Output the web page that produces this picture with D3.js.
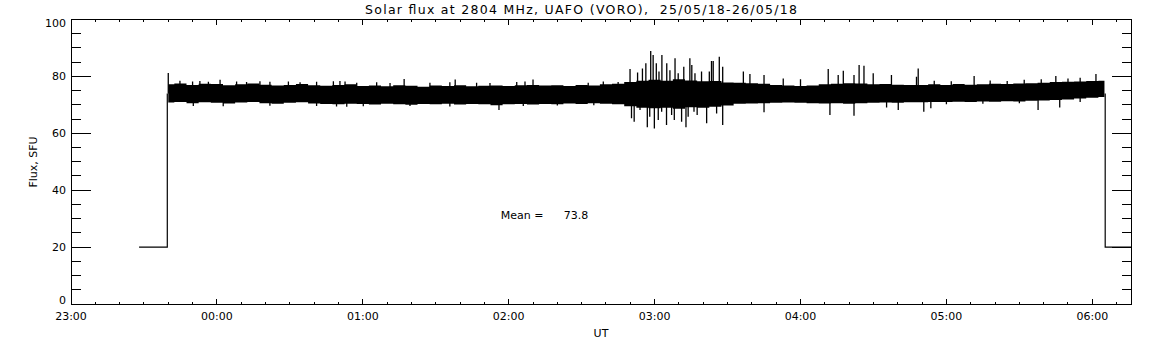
<!DOCTYPE html>
<head>
<meta charset="utf-8">
<title>Solar flux at 2804 MHz</title>
<script src="https://d3js.org/d3.v7.min.js"></script>
<style>
  body { margin: 0; background: #fff; }
  text { font-family: 'DejaVu Sans', sans-serif; fill: #000; }
</style>
</head>
<body>
<script>
// time is in minutes after 23:00 (25/05/18)
var tickMinutes = [0, 60, 120, 180, 240, 300, 360, 420];
var tickLabels = ["23:00", "00:00", "01:00", "02:00", "03:00", "04:00", "05:00", "06:00"];
var yTicks = [0, 20, 40, 60, 80, 100];

// receiver off (20 SFU) before and after observation
var offBefore = [[28, 20], [39.6, 20]];
var offAfter = [[425.3, 20], [440, 20]];
var bandStart = 39.6, bandEnd = 425.3;

// envelope of the noisy record, sampled every 5 min from 23:40
var bandTimes = d3.range(40, 426, 5);
var bandUpper = [77.2, 77.5, 77.0, 77.4, 77.3, 76.9, 77.2, 77.5, 77.1, 76.8, 77.0, 77.3, 76.9, 76.7, 77.0, 77.2,
  76.6, 76.8, 76.5, 76.9, 76.7, 76.4, 76.8, 76.6, 76.9, 76.5, 76.7, 76.8, 76.6, 76.9, 77.0,
  76.8, 76.9, 76.6, 77.0, 76.8, 77.2, 77.4,
  78.0, 78.5, 78.8, 78.5, 79.0, 78.6, 78.3, 78.4, 77.9,
  77.8, 77.6, 77.4, 77.0, 76.8, 76.6, 76.8, 77.2, 77.4, 77.6, 77.5, 77.2, 77.3, 77.1, 77.0,
  77.0, 77.2, 77.0, 77.3, 77.1, 77.2, 77.4, 77.3, 77.5, 77.6, 77.8, 78.0, 78.1, 78.2, 78.4, 78.5];
var bandLower = [70.8, 71.0, 70.6, 70.9, 70.7, 70.5, 70.8, 71.0, 70.6, 70.4, 70.7, 70.9, 70.5, 70.3, 70.2, 70.4,
  70.3, 70.1, 70.4, 70.2, 70.0, 70.3, 70.2, 70.4, 70.1, 70.3, 70.2, 69.9, 70.2, 70.3, 70.1,
  70.3, 70.2, 70.5, 70.3, 70.6, 70.4, 70.2,
  69.5, 69.0, 68.8, 69.0, 68.6, 69.2, 69.0, 69.3, 69.8,
  70.4, 70.5, 70.6, 70.7, 70.8, 70.7, 70.6, 70.5, 70.6, 70.4, 70.6, 70.7, 70.8, 70.7, 70.9,
  70.9, 71.0, 71.0, 71.1, 71.0, 71.2, 71.1, 71.3, 71.2, 71.4, 71.5, 71.7, 71.9, 72.2, 72.5, 72.8];

// individual spikes [minute, SFU]
var spikesUp = [[40, 81.2], [44.8, 78.5], [50, 78.2], [53, 78.4], [56.5, 78.1], [61.3, 78.8], [68.1, 78.2], [72.2, 78.0],
  [77.7, 78.3], [81.8, 78.1], [89.4, 78.2], [94.2, 77.9], [101, 78.1], [107.9, 78.3], [110.6, 78.4], [112.7, 78.2],
  [117.5, 77.8], [125.7, 77.9], [131.2, 77.7], [137, 79.1], [147.6, 77.8], [155.8, 77.9], [158, 78.9], [166.8, 77.8],
  [172.3, 77.7], [183.3, 78.0], [186.7, 78.2], [190, 78.9], [212.7, 77.8], [218.9, 78.2], [225, 78.0],
  [229.9, 82.6], [233, 81.4], [235, 82.8], [236.4, 84.6], [238.4, 88.9], [239.4, 87.5], [240.7, 84.6], [241.8, 81.7],
  [243, 87.5], [245, 84.6], [246.3, 82.2], [248.4, 86.4], [249.7, 81.1], [252, 83.4], [254.5, 86.4], [255.3, 84],
  [256.6, 81.1], [259.3, 81.7], [262.5, 81.7], [263.4, 85.4], [264.1, 85.4], [266.6, 86.9], [268, 83.4],
  [276.5, 81.7], [279.2, 80.8], [285, 80.5], [292.9, 79.3], [300, 79.0], [311.4, 82.6], [315.5, 80.5], [317.6, 82],
  [322, 80.5], [324.1, 84], [326.1, 83.7], [329.9, 81.1], [337.4, 80.5], [347.7, 79.9], [348.4, 82.8],
  [355, 78.5], [362, 78.3], [371.4, 80.1], [378, 78.6], [385, 78.4], [392, 78.8], [399, 79.0], [405, 80.1],
  [410, 79.3], [415, 79.5], [421.5, 80.8]];
var spikesDown = [[50.3, 69.6], [62.6, 69.5], [81.8, 69.7], [101, 69.6], [109.2, 69.4], [113.4, 69.3],
  [120.2, 69.5], [139.4, 69.6], [155.8, 69.4], [176, 68.2], [186, 69.6], [200, 69.8], [215, 69.9],
  [230.5, 65.3], [231.6, 64.1], [234, 68.2], [237, 62.1], [238, 65.8], [239.9, 61.7], [241.5, 64.7], [242.9, 67.6],
  [244.9, 62.9], [247, 66.4], [248.1, 64.7], [251.1, 64.1], [252.9, 62.1], [253.8, 65.8], [256.2, 67.6], [257.5, 66.4],
  [261.4, 63.5], [265.5, 67], [268, 62.9], [285, 67.4], [312.1, 66.4], [322, 66.2], [335.4, 69.1], [340.2, 68.2],
  [350.7, 67.6], [353.6, 68.8], [360, 70.2], [375, 70.4], [390, 70.6], [397.7, 68.2], [406.6, 69.1], [415, 71.0]];

var meanValue = 73.8;

var width = 1152, height = 345;
var padL = 71, padR = 1131.7, padT = 19.5, padB = 304;

var svg = d3.select("body").append("svg")
  .attr("width", width).attr("height", height);

var x = d3.scaleLinear().domain([0, 436.2]).range([padL, padR]);
var y = d3.scaleLinear().domain([0, 100]).range([padB, padT]);

svg.append("clipPath").attr("id", "clip")
  .append("rect").attr("x", padL).attr("y", padT).attr("width", padR - padL).attr("height", padB - padT);

var plot = svg.append("g").attr("clip-path", "url(#clip)");

// noisy band
var band = d3.area()
  .x(function(d, i) { return x(bandTimes[i]); })
  .y0(function(d, i) { return y(bandLower[i]); })
  .y1(function(d, i) { return y(bandUpper[i]); })
  .curve(d3.curveStep);
plot.append("path").datum(bandUpper).attr("d", band).attr("fill", "#000");

// spikes
plot.selectAll(".spike").data(spikesUp.concat(spikesDown)).enter().append("line")
  .attr("x1", function(d) { return x(d[0]); })
  .attr("x2", function(d) { return x(d[0]); })
  .attr("y1", y(74))
  .attr("y2", function(d) { return y(d[1]); })
  .attr("stroke", "#000").attr("stroke-width", 1.3);

// off levels and the jumps
var line = d3.line().x(function(d) { return x(d[0]); }).y(function(d) { return y(d[1]); });
plot.append("path").datum(offBefore.concat([[bandStart, 74]])).attr("d", line)
  .attr("fill", "none").attr("stroke", "#000").attr("stroke-width", 1.2);
plot.append("path").datum([[bandEnd, 74]].concat(offAfter)).attr("d", line)
  .attr("fill", "none").attr("stroke", "#000").attr("stroke-width", 1.2);

// frame
var axes = svg.append("g").attr("stroke", "#000").attr("stroke-width", 1).attr("shape-rendering", "crispEdges");
axes.append("rect").attr("x", padL).attr("y", padT).attr("width", padR - padL).attr("height", padB - padT)
  .attr("fill", "none");

// x ticks (bottom and top), minor every 10 min
d3.range(0, 437, 10).forEach(function(m) {
  var len = (m % 60 === 0) ? 5 : 2.5;
  axes.append("line").attr("x1", x(m)).attr("x2", x(m)).attr("y1", padB).attr("y2", padB - len);
  axes.append("line").attr("x1", x(m)).attr("x2", x(m)).attr("y1", padT).attr("y2", padT + len);
});
// y ticks (left and right), minor every 5 SFU
d3.range(0, 101, 5).forEach(function(v) {
  var len = (v % 20 === 0) ? 20 : 10;
  axes.append("line").attr("x1", padL).attr("x2", padL + len).attr("y1", y(v)).attr("y2", y(v));
  axes.append("line").attr("x1", padR).attr("x2", padR - len).attr("y1", y(v)).attr("y2", y(v));
});

// labels
svg.selectAll(".xl").data(tickMinutes).enter().append("text")
  .attr("x", function(d) { return x(d); }).attr("y", 320)
  .attr("text-anchor", "middle").attr("font-size", 11)
  .text(function(d, i) { return tickLabels[i]; });

svg.selectAll(".yl").data(yTicks).enter().append("text")
  .attr("x", 66).attr("y", function(d) { return Math.min(padB, Math.max(27, y(d) + 4)); })
  .attr("text-anchor", "end").attr("font-size", 11)
  .text(function(d) { return d; });

svg.append("text").attr("x", 601).attr("y", 337).attr("text-anchor", "middle").attr("font-size", 11).text("UT");

svg.append("text").attr("transform", "translate(37,162) rotate(-90)")
  .attr("text-anchor", "middle").attr("font-size", 11).text("Flux, SFU");

svg.append("text").attr("x", 365).attr("y", 14).attr("font-size", 12.5)
  .attr("textLength", 432).attr("lengthAdjust", "spacing")
  .style("white-space", "pre")
  .text("Solar flux at 2804 MHz, UAFO (VORO),  25/05/18-26/05/18");

svg.append("text").attr("x", 500.7).attr("y", 219).attr("font-size", 11).text("Mean =");
svg.append("text").attr("x", 588.3).attr("y", 219).attr("font-size", 11).attr("text-anchor", "end")
  .text(meanValue.toFixed(1));
</script>
</body>
